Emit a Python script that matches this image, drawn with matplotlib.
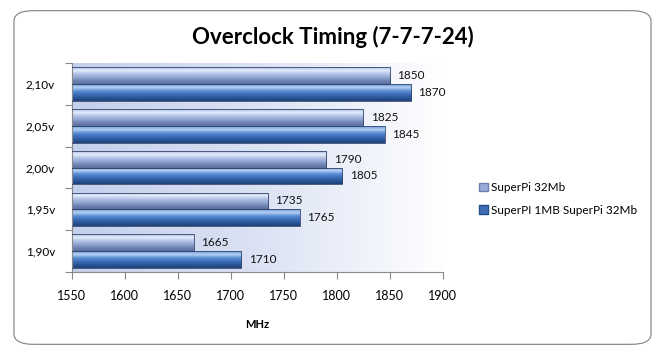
import numpy as np
import matplotlib.pyplot as plt
from matplotlib.colors import LinearSegmentedColormap
from matplotlib.patches import FancyBboxPatch, Patch

plt.rcParams['font.family'] = ['Lato', 'DejaVu Sans']

voltages = ['2,10v', '2,05v', '2,00v', '1,95v', '1,90v']
superpi_32mb = [1850, 1825, 1790, 1735, 1665]
superpi_1mb_32mb = [1870, 1845, 1805, 1765, 1710]
series_names = ['SuperPi 32Mb', 'SuperPI 1MB SuperPi 32Mb']
x_ticks = [1550, 1600, 1650, 1700, 1750, 1800, 1850, 1900]

# bar shading, top -> bottom
light_cmap = LinearSegmentedColormap.from_list(
    'light', ['#aebfe2', '#e2ecfb', '#b4c4e6', '#93a8d3', '#7085b6', '#5c6f9c'])
dark_cmap = LinearSegmentedColormap.from_list(
    'dark', ['#6f9ad8', '#b4d0f4', '#5d8fd6', '#3d6fb9', '#2b579a', '#1f4278'])

fig = plt.figure(figsize=(6.65, 3.55), dpi=100)
fig.patch.set_facecolor('white')

# rounded outer border
border = FancyBboxPatch((0.021, 0.03), 0.958, 0.94,
                        boxstyle='round,pad=0,rounding_size=0.03',
                        transform=fig.transFigure, facecolor='none',
                        edgecolor='#8c8c8c', linewidth=0.9, zorder=-1)
fig.patches.append(border)

ax = fig.add_axes([0.108, 0.234, 0.558, 0.588])
ax.set_xlim(x_ticks[0], x_ticks[-1])
ax.set_ylim(len(voltages) - 0.5, -0.5)

# plot area background gradient
bg = np.linspace(0, 1, 256).reshape(1, -1)
bg_cmap = LinearSegmentedColormap.from_list('bg', ['#c3cfec', '#dbe2f4', '#ffffff'])
ax.imshow(bg, cmap=bg_cmap, aspect='auto',
          extent=[x_ticks[0], x_ticks[-1], len(voltages) - 0.5, -0.5], zorder=0)

h = 0.4
grad = np.linspace(0, 1, 64).reshape(-1, 1)
y = np.arange(len(voltages))
for vals, offset, cmap in [(superpi_32mb, -h / 2, light_cmap),
                           (superpi_1mb_32mb, h / 2, dark_cmap)]:
    bars = ax.barh(y + offset, vals, height=h, left=0, color='none',
                   edgecolor='#34466c', linewidth=0.6, zorder=3)
    for bar, v in zip(bars, vals):
        yc = bar.get_y()
        im = ax.imshow(grad, cmap=cmap, aspect='auto',
                       extent=[x_ticks[0], v, yc + h, yc], zorder=2)
        im.set_clip_path(bar)
        ax.text(v + 7, yc + h / 2, str(v), va='center', ha='left',
                fontsize=8.5, color='#111111', zorder=4)

ax.set_ylim(len(voltages) - 0.5, -0.5)
ax.set_xlim(x_ticks[0], x_ticks[-1])

ax.set_xticks(x_ticks)
ax.set_xticklabels([str(t) for t in x_ticks], fontsize=9)
ax.set_yticks(np.arange(len(voltages) + 1) - 0.5)
ax.set_yticklabels([])
ax.set_yticks(y, minor=True)
ax.set_yticklabels(voltages, minor=True, fontsize=8.5)
ax.tick_params(axis='y', which='minor', length=0, pad=12)
ax.tick_params(axis='y', which='major', length=5, color='#888888')
ax.tick_params(axis='x', length=5, color='#888888', pad=8)
for s in ['top', 'right']:
    ax.spines[s].set_visible(False)
for s in ['left', 'bottom']:
    ax.spines[s].set_color('#888888')
    ax.spines[s].set_linewidth(0.8)

ax.set_xlabel('MHz', fontsize=8, fontweight='bold', labelpad=12)
fig.text(0.5, 0.895, 'Overclock Timing (7-7-7-24)', ha='center', va='center',
         fontsize=16, fontweight='bold')

handles = [Patch(facecolor='#9aaed8', edgecolor='#6a80b0'),
           Patch(facecolor='#3f6fb8', edgecolor='#234d8c')]
fig.legend(handles, series_names, loc='center left',
           bbox_to_anchor=(0.705, 0.44), frameon=False, fontsize=8.5,
           handlelength=0.7, handleheight=0.7, handletextpad=0.3,
           labelspacing=1.0)

fig.savefig('out.png', dpi=100)
